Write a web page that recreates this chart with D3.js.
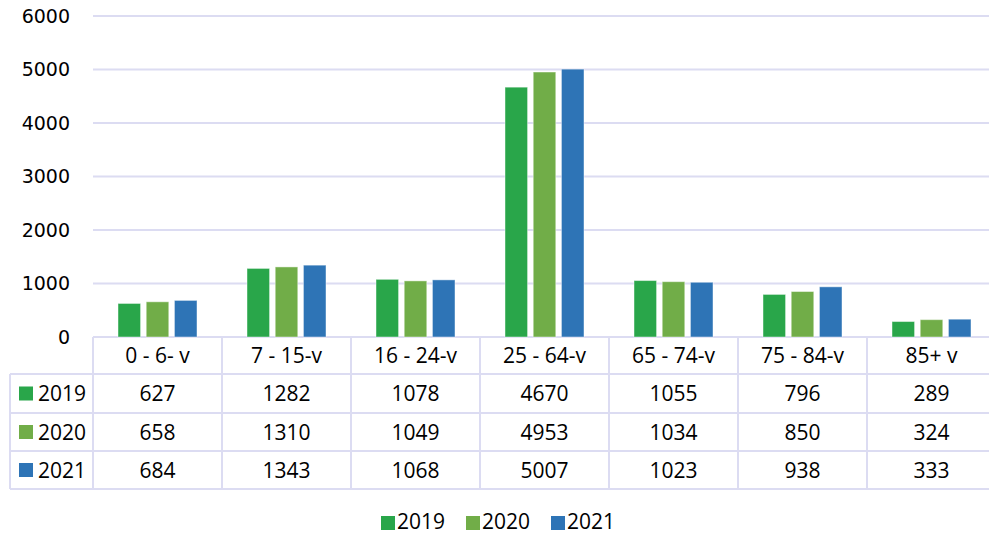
<!DOCTYPE html>
<html>
<head>
<meta charset="utf-8">
<script src="https://cdn.jsdelivr.net/npm/d3@7"></script>
<style>
  body { margin: 0; background: #fff; }
  svg { display: block; }
  .tick-label { font-family: "DejaVu Sans", sans-serif; font-size: 19px; fill: #000; }
  .tbl { font-family: "Open Sans", sans-serif; font-size: 21px; fill: #000; }
</style>
</head>
<body>
<div id="chart"></div>
<script>
"use strict";
// age groups shown in the table header
var categories = ["0 - 6- v", "7 - 15-v", "16 - 24-v", "25 - 64-v", "65 - 74-v", "75 - 84-v", "85+ v"];
var years = ["2019", "2020", "2021"];
var v2019 = [627, 1282, 1078, 4670, 1055, 796, 289];
var v2020 = [658, 1310, 1049, 4953, 1034, 850, 324];
var v2021 = [684, 1343, 1068, 5007, 1023, 938, 333];
var yTicks = [0, 1000, 2000, 3000, 4000, 5000, 6000];

var series = [v2019, v2020, v2021];
var colors = ["#29a64a", "#71ad48", "#2e74b6"];
var gridColor = "#dcdcf2";

var w = 989, h = 535;
var plotLeft = 93, plotTop = 16, base = 337;
var rowH = [37, 39, 38, 38];

var svg = d3.select("#chart").append("svg").attr("width", w).attr("height", h);

var x = d3.scaleBand().domain(categories).range([plotLeft, plotLeft + 7 * 129]);
var xi = d3.scaleBand().domain(years).range([25, 104]).paddingInner(0.2);
var y = d3.scaleLinear().domain([0, 6000]).range([base, plotTop]);

// gridlines
svg.append("g").selectAll("line").data(yTicks).join("line")
  .attr("x1", plotLeft).attr("x2", w)
  .attr("y1", function(d) { return y(d); })
  .attr("y2", function(d) { return y(d); })
  .attr("stroke", gridColor).attr("stroke-width", 2);

svg.append("g").selectAll("text").data(yTicks).join("text")
  .attr("class", "tick-label")
  .attr("x", 70).attr("y", function(d) { return y(d); })
  .attr("dy", "0.35em").attr("text-anchor", "end")
  .text(function(d) { return d; });

// bars
series.forEach(function(vals, s) {
  svg.append("g").selectAll("rect").data(vals).join("rect")
    .attr("x", function(d, i) { return x(categories[i]) + xi(years[s]); })
    .attr("width", xi.bandwidth())
    .attr("y", function(d) { return y(d); })
    .attr("height", function(d) { return base - y(d); })
    .attr("fill", colors[s])
    .attr("stroke", "#ffffff").attr("stroke-opacity", 0.45).attr("stroke-width", 1);
});

// data table
var rowY = [base];
rowH.forEach(function(r, i) { rowY.push(rowY[i] + r); });
var tEnd = rowY[rowY.length - 1];
var tbl = svg.append("g");

tbl.selectAll("line.h").data(rowY.slice(1)).join("line")
  .attr("x1", 10).attr("x2", w)
  .attr("y1", function(d) { return d; }).attr("y2", function(d) { return d; })
  .attr("stroke", gridColor).attr("stroke-width", 2);

var colX = categories.map(function(c) { return x(c); });
tbl.selectAll("line.v").data(colX).join("line")
  .attr("x1", function(d) { return d; }).attr("x2", function(d) { return d; })
  .attr("y1", base).attr("y2", tEnd)
  .attr("stroke", gridColor).attr("stroke-width", 2);
tbl.append("line").attr("x1", 10).attr("x2", 10).attr("y1", rowY[1]).attr("y2", tEnd)
  .attr("stroke", gridColor).attr("stroke-width", 2);

tbl.selectAll("text.head").data(categories).join("text")
  .attr("class", "tbl")
  .attr("x", function(d) { return x(d) + x.bandwidth() / 2; })
  .attr("y", (rowY[0] + rowY[1]) / 2).attr("dy", "0.36em")
  .attr("text-anchor", "middle")
  .text(function(d) { return d; });

series.forEach(function(vals, s) {
  var cy = (rowY[s + 1] + rowY[s + 2]) / 2;
  tbl.append("rect").attr("x", 19).attr("y", cy - 7).attr("width", 14).attr("height", 14)
    .attr("fill", colors[s]);
  tbl.append("text").attr("class", "tbl").attr("x", 38).attr("y", cy).attr("dy", "0.36em")
    .text(years[s]);
  tbl.append("g").selectAll("text").data(vals).join("text")
    .attr("class", "tbl")
    .attr("x", function(d, i) { return x(categories[i]) + x.bandwidth() / 2; })
    .attr("y", cy).attr("dy", "0.36em").attr("text-anchor", "middle")
    .text(function(d) { return d; });
});

// legend
var legX = [381, 466, 551];
var leg = svg.append("g");
years.forEach(function(yr, i) {
  leg.append("rect").attr("x", legX[i]).attr("y", 516).attr("width", 14).attr("height", 14)
    .attr("fill", colors[i]);
  leg.append("text").attr("class", "tbl").attr("x", legX[i] + 16).attr("y", 521).attr("dy", "0.36em")
    .text(yr);
});
</script>
</body>
</html>
